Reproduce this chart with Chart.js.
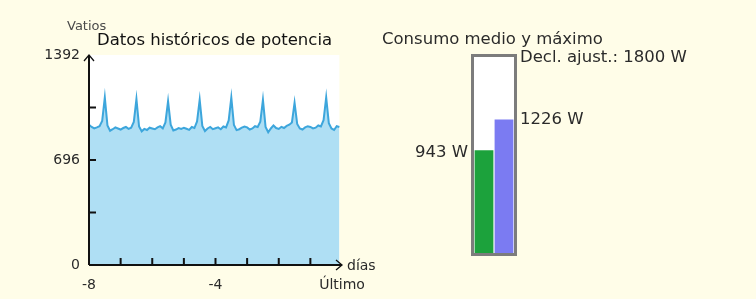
<!DOCTYPE html>
<html lang="es">
<head>
  <meta charset="UTF-8">
  <title>Datos históricos de potencia</title>
  <script src="https://cdn.jsdelivr.net/npm/chart.js"></script>
  <style>
    html, body {
      margin: 0;
      padding: 0;
      background: #fffde8;
      overflow: hidden;
    }
    .wrap {
      position: relative;
      width: 756px;
      height: 299px;
    }
    .wrap canvas {
      position: absolute;
      left: 0;
      top: 0;
    }
  </style>
</head>
<body>
  <div class="wrap">
    <canvas id="histChart" width="756" height="299"></canvas>
    <canvas id="consChart" width="756" height="299"></canvas>
  </div>

  <script>
    // Historical power, one value every 2 hours, 8 days (W)
    const pointsPerDay = 12;
    const histPower = [
      930, 915, 905, 912, 920, 955, 1110, 925, 890, 900, 912, 905,
      898, 908, 915, 902, 910, 948, 1100, 918, 886, 902, 895, 910,
      905, 900, 912, 920, 906, 945, 1085, 930, 892, 898, 908, 902,
      910, 903, 896, 915, 908, 952, 1095, 922, 888, 905, 915, 900,
      906, 912, 900, 918, 912, 958, 1110, 928, 894, 900, 910, 918,
      912, 898, 905, 920, 915, 950, 1095, 915, 880, 905, 925, 908,
      902, 916, 908, 922, 930, 945, 1075, 935, 905, 898, 912, 920,
      915, 905, 910, 925, 918, 960, 1110, 940, 905, 895, 920, 915
    ];
    const dayStart = -8;
    const dayEnd = 0;
    const yMax = 1392;
    const yStep = 348;
    const yLabelValues = [0, 696, 1392];
    const xLabelText = { '-8': '-8', '-4': '-4', '0': 'Último' };

    // Average / maximum consumption (W)
    const consLabels = ['Medio', 'Máximo'];
    const consValues = [943, 1226];
    const declaredMax = 1800;

    const font = 'DejaVu Sans';
    const textColor = '#2a2a2a';

    const histPoints = histPower.map((v, i) => ({ x: dayStart + i / pointsPerDay, y: v }));

    // axes with arrows, inner ticks, extra labels
    const histDecor = {
      id: 'histDecor',
      beforeDatasetsDraw(chart) {
        const { ctx, chartArea, scales } = chart;
        const xEnd = scales.x.getPixelForValue(histPoints[histPoints.length - 1].x);
        ctx.save();
        ctx.fillStyle = '#ffffff';
        ctx.fillRect(chartArea.left, chartArea.top, xEnd - chartArea.left, chartArea.bottom - chartArea.top);
        ctx.restore();
      },
      afterDatasetsDraw(chart) {
        const { ctx, chartArea, scales } = chart;
        const x = scales.x, y = scales.y;
        const x0 = chartArea.left, y0 = chartArea.bottom;
        ctx.save();
        ctx.strokeStyle = '#111';
        ctx.lineWidth = 2;
        ctx.beginPath();
        ctx.moveTo(x0, y0);
        ctx.lineTo(x0, y.getPixelForValue(yMax));
        ctx.moveTo(x0, y0);
        ctx.lineTo(x.getPixelForValue(dayEnd), y0);
        ctx.stroke();

        ctx.lineWidth = 1.3;
        ctx.beginPath();
        const yt = y.getPixelForValue(yMax);
        ctx.moveTo(x0 - 5, yt + 6); ctx.lineTo(x0, yt); ctx.lineTo(x0 + 5, yt + 6);
        const xt = x.getPixelForValue(dayEnd);
        ctx.moveTo(xt - 6, y0 - 5); ctx.lineTo(xt, y0); ctx.lineTo(xt - 6, y0 + 5);
        ctx.stroke();

        ctx.lineWidth = 2;
        ctx.beginPath();
        for (let v = yStep; v < yMax; v += yStep) {
          const py = y.getPixelForValue(v);
          ctx.moveTo(x0, py); ctx.lineTo(x0 + 7, py);
        }
        for (let d = dayStart + 1; d < dayEnd; d++) {
          const px = x.getPixelForValue(d);
          ctx.moveTo(px, y0); ctx.lineTo(px, y0 - 7);
        }
        ctx.stroke();

        ctx.fillStyle = textColor;
        ctx.textBaseline = 'middle';
        ctx.font = '14px "' + font + '"';
        ctx.textAlign = 'left';
        ctx.fillText('días', xt + 5, y0 + 1);
        ctx.fillStyle = '#4a4a4a';
        ctx.font = '13px "' + font + '"';
        ctx.fillText('Vatios', 67, 27);
        ctx.fillStyle = '#111';
        ctx.font = '16.5px "' + font + '"';
        ctx.fillText('Datos históricos de potencia', 97, 41);
        ctx.restore();
      }
    };

    new Chart(document.getElementById('histChart'), {
      type: 'line',
      data: {
        datasets: [{
          data: histPoints,
          borderColor: '#3da6dc',
          backgroundColor: '#afdff4',
          borderWidth: 2,
          fill: 'origin',
          pointRadius: 0,
          tension: 0
        }]
      },
      options: {
        responsive: false,
        animation: false,
        layout: { padding: { top: 55, right: 414, left: 0, bottom: 0 } },
        plugins: { legend: { display: false }, tooltip: { enabled: false } },
        scales: {
          x: {
            type: 'linear',
            min: dayStart,
            max: dayEnd,
            grid: { display: false, drawTicks: false },
            border: { display: false },
            ticks: {
              stepSize: 1,
              autoSkip: false,
              maxRotation: 0,
              padding: 12,
              color: textColor,
              font: { family: font, size: 14 },
              callback: v => xLabelText[String(v)] || ''
            },
            afterFit: s => { s.height = 34; }
          },
          y: {
            min: 0,
            max: yMax,
            grid: { display: false, drawTicks: false },
            border: { display: false },
            ticks: {
              stepSize: yStep,
              padding: 9,
              color: textColor,
              font: { family: font, size: 14 },
              callback: v => yLabelValues.includes(v) ? String(v) : ''
            },
            afterFit: s => { s.width = 89; }
          }
        }
      },
      plugins: [histDecor]
    });

    const consDecor = {
      id: 'consDecor',
      beforeDatasetsDraw(chart) {
        const { ctx, chartArea } = chart;
        ctx.save();
        ctx.fillStyle = '#ffffff';
        ctx.fillRect(chartArea.left, chartArea.top, chartArea.right - chartArea.left, chartArea.bottom - chartArea.top);
        ctx.restore();
      },
      afterDatasetsDraw(chart) {
        const { ctx, chartArea, scales } = chart;
        const y = scales.y;
        ctx.save();
        ctx.strokeStyle = '#7c7c7c';
        ctx.lineWidth = 3;
        ctx.strokeRect(chartArea.left - 1.5, chartArea.top - 1.5,
          chartArea.right - chartArea.left + 3, chartArea.bottom - chartArea.top + 3);

        ctx.fillStyle = textColor;
        ctx.textBaseline = 'middle';
        ctx.font = '16.5px "' + font + '"';
        ctx.textAlign = 'right';
        ctx.fillText(consValues[0] + ' W', chartArea.left - 6, y.getPixelForValue(consValues[0]) + 2);
        ctx.textAlign = 'left';
        ctx.fillText(consValues[1] + ' W', chartArea.right + 6, y.getPixelForValue(consValues[1]));
        ctx.fillText('Decl. ajust.: ' + declaredMax + ' W', chartArea.right + 6, y.getPixelForValue(declaredMax) + 1);
        ctx.fillText('Consumo medio y máximo', 382, 40);
        ctx.restore();
      }
    };

    new Chart(document.getElementById('consChart'), {
      type: 'bar',
      data: {
        labels: consLabels,
        datasets: [{
          data: consValues,
          backgroundColor: ['#1ca23c', '#7b7bf2'],
          barPercentage: 0.94,
          categoryPercentage: 1
        }]
      },
      options: {
        responsive: false,
        animation: false,
        layout: { padding: { top: 57, right: 242, left: 474, bottom: 46 } },
        plugins: { legend: { display: false }, tooltip: { enabled: false } },
        scales: {
          x: { display: false },
          y: { display: false, min: 0, max: declaredMax }
        }
      },
      plugins: [consDecor]
    });
  </script>
</body>
</html>
